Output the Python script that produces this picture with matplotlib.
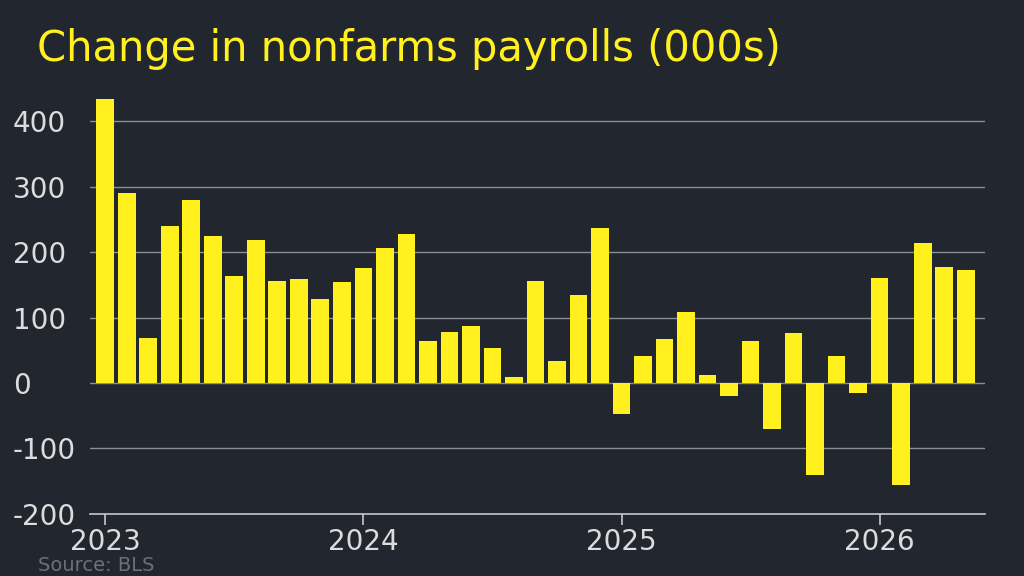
import numpy as np
import matplotlib.pyplot as plt

plt.rcParams['axes.unicode_minus'] = False

# monthly change in nonfarm payrolls, Jan 2023 - May 2026 (thousands)
payrolls = [434, 290, 69, 240, 279, 224, 163, 218, 156, 159, 128, 154,
            176, 206, 227, 64, 78, 87, 53, 9, 156, 34, 134, 237,
            -47, 41, 67, 108, 12, -20, 64, -70, 76, -140, 41, -15,
            160, -156, 214, 177, 172]
year_labels = ['2023', '2024', '2025', '2026']

BG = '#22262f'
YELLOW = '#fff01e'
GRID = '#8a8d94'

fig = plt.figure(figsize=(10.24, 5.76), dpi=100, facecolor=BG)
ax = fig.add_axes([0.088, 0.108, 0.874, 0.727], facecolor=BG)

x = np.arange(len(payrolls))
ax.bar(x, payrolls, width=0.82, color=YELLOW, zorder=3)

ax.set_xlim(-0.7, 40.9)
ax.set_ylim(-200, 440)
ax.set_yticks(range(-200, 401, 100))
ax.set_xticks(range(0, len(payrolls), 12))
ax.set_xticklabels(year_labels)

for v in range(-100, 401, 100):
    ax.axhline(v, color=GRID, lw=1, zorder=1)

for s in ['top', 'right', 'left']:
    ax.spines[s].set_visible(False)
ax.spines['bottom'].set_color('#c8c8c8')
ax.spines['bottom'].set_linewidth(1.2)
ax.tick_params(axis='y', length=0, labelsize=20, colors='#dcdcdc')
ax.tick_params(axis='x', length=8, width=1.2, color='#c8c8c8', labelsize=20,
               colors='#dcdcdc', pad=2)
for lab in ax.get_yticklabels():
    lab.set_horizontalalignment('left')
    lab.set_x(-0.081)

fig.text(0.036, 0.915, 'Change in nonfarms payrolls (000s)', color=YELLOW,
         fontsize=30, va='center', ha='left')
fig.text(0.037, 0.002, 'Source: BLS', color='#6e7078', fontsize=14,
         va='bottom', ha='left')

fig.savefig('out.png', dpi=100, facecolor=BG)
